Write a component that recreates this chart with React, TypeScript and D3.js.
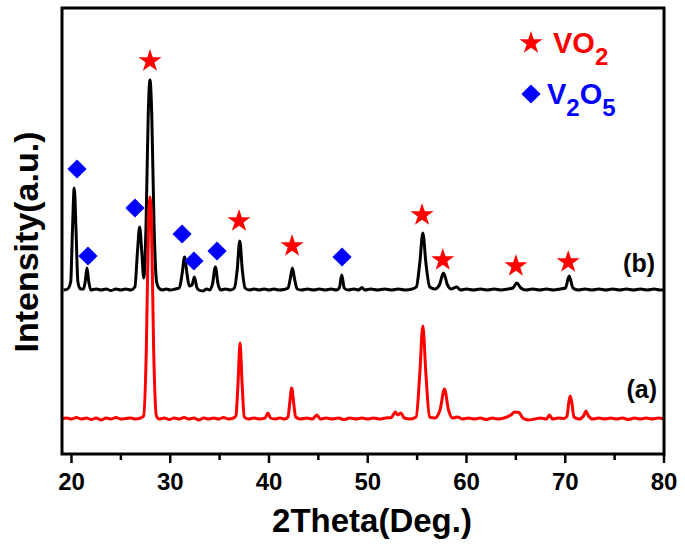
import React from "react";
import * as d3 from "d3";

// Sample (a): [2Theta, intensity above baseline]
const patternA: [number, number][] = [
  [19.0, 0], [19.5, 1], [20, 0], [20.5, 1.5], [21, 0], [21.5, 1], [22, -0.5], [22.5, 1], [23, -1], [23.5, 1],
  [24, 0], [24.5, 1.5], [25, 0], [25.5, 0.5], [26, 1], [26.5, 0], [27, 1], [27.3, 3], [27.58, 70], [27.8, 195],
  [27.95, 222], [28.1, 195], [28.32, 70], [28.6, 3], [28.9, 0], [29.4, 1], [29.9, -0.5], [30.4, 1], [30.9, 0],
  [31.4, 1.5], [31.9, 0], [32.4, 1], [32.9, -1], [33.4, 1], [33.9, 0], [34.4, 1], [34.9, 0], [35.4, 1.5], [35.9, 0],
  [36.4, 1], [36.65, 3], [36.86, 35], [37.07, 76], [37.28, 35], [37.5, 2], [37.9, 0], [38.5, 1], [39.0, 0],
  [39.6, 1], [39.9, 6], [40.15, 1], [40.6, 0], [41.1, 1], [41.6, 0], [41.92, 2], [42.1, 16], [42.3, 31],
  [42.5, 16], [42.7, 2], [43.2, 0], [43.8, 1], [44.4, 0], [44.84, 4], [45.2, 0], [45.8, 1], [46.4, 0],
  [47.0, 1], [47.6, -0.5], [48.2, 1], [48.8, 0], [49.4, 1], [50.0, 0], [50.6, 1], [51.2, 0], [51.8, 1],
  [52.4, 1.5], [52.78, 7], [53.05, 4], [53.35, 6], [53.7, 1], [54.3, 0], [54.9, 2], [55.27, 45], [55.58, 93],
  [55.89, 45], [56.25, 2], [56.8, 1], [57.32, 9], [57.77, 30], [58.18, 9], [58.6, 1], [59.1, 2], [59.6, 0],
  [60.2, 1], [60.8, 0], [61.4, 1], [62.0, -0.5], [62.6, 1], [63.2, 0], [63.8, 1], [64.5, 4], [64.9, 7],
  [65.3, 6.5], [65.7, 1], [66.3, -1], [66.9, 0], [67.5, 1], [68.1, 0], [68.4, 4], [68.7, 0], [69.3, 1],
  [69.9, 0.5], [70.18, 3], [70.35, 16], [70.5, 23], [70.67, 16], [70.88, 2], [71.4, 0], [71.85, 3], [72.1, 8],
  [72.35, 3], [72.8, 0], [73.4, 1], [74.0, 0], [74.6, 1], [75.2, 0], [75.8, 1], [76.4, -0.5], [77.0, 1],
  [77.6, 0], [78.2, 1], [78.8, 0], [79.4, 1], [80, 0]
];

// Sample (b): [2Theta, intensity above baseline]
const patternB: [number, number][] = [
  [19.2, 0], [19.6, 1], [19.92, 8], [20.1, 60], [20.28, 102], [20.46, 60], [20.65, 8], [20.9, 1],
  [21.22, 1], [21.4, 9], [21.57, 22], [21.74, 9], [21.95, 0], [22.5, 1], [23, 0], [23.5, 1], [24, -0.5],
  [24.5, 1], [25, 0], [25.5, 1], [26.0, 0], [26.42, 3], [26.68, 38], [26.9, 63], [27.12, 38], [27.32, 12],
  [27.55, 65], [27.77, 175], [27.95, 210], [28.13, 175], [28.36, 65], [28.62, 8], [28.85, 2], [29.2, 0],
  [29.6, 1], [30, 0], [30.5, 1], [30.92, 2], [31.2, 16], [31.45, 33], [31.7, 16], [31.92, 4], [32.2, 5],
  [32.45, 13], [32.68, 3], [32.9, 0], [33.3, -1], [33.7, 1], [34.0, 0], [34.28, 6], [34.57, 23], [34.84, 6],
  [35.1, 0], [35.6, 1], [36.1, 0], [36.5, 2], [36.78, 20], [37.04, 49], [37.3, 20], [37.58, 2], [38.0, 0],
  [38.5, 1], [39.0, 0], [39.5, 1], [40.0, 0], [40.5, 1], [41.0, 0], [41.5, 0.5], [41.92, 2], [42.15, 11],
  [42.37, 22], [42.59, 11], [42.85, 1], [43.3, 0], [43.9, 1], [44.5, 0], [45.1, 1], [45.7, 0], [46.3, 1],
  [46.8, 0], [47.12, 2], [47.37, 15], [47.62, 2], [48.0, 0], [48.6, 1], [49.1, 0], [49.4, 2.5], [49.7, 0],
  [50.3, 1], [51.0, 0], [51.7, 1], [52.4, 0], [53.1, 1], [53.8, 0], [54.5, 1], [54.92, 3], [55.27, 27],
  [55.58, 57], [55.89, 27], [56.28, 3], [56.8, 1], [57.25, 5], [57.67, 17], [58.08, 5], [58.45, 1],
  [59.0, 3], [59.4, 0], [60.0, 1], [60.7, 0], [61.4, 1], [62.1, 0], [62.8, 1], [63.5, 0], [64.2, 1],
  [64.7, 2], [65.1, 7], [65.5, 2], [66.0, 0], [66.7, 1], [67.4, 0], [68.1, 1], [68.8, 0], [69.5, 1],
  [70.02, 2], [70.4, 14], [70.78, 2], [71.3, 0], [72.0, 1], [72.7, 0], [73.4, 1], [74.1, 0], [74.8, 1],
  [75.5, 0], [76.2, 1], [76.9, 0], [77.6, 1], [78.3, 0], [79.0, 1], [79.6, 0], [80, 0]
];

const offsetA = 35;
const offsetB = 164;

// Peak markers: [2Theta, level]
const vo2Marks: [number, number][] = [
  [27.95, 393], [36.97, 233], [42.34, 208], [55.5, 239], [57.6, 194], [65.0, 188], [70.3, 192]
];
const v2o5Marks: [number, number][] = [
  [20.56, 285], [21.67, 198], [26.43, 246], [31.2, 220], [32.4, 193], [34.74, 203], [47.4, 197]
];

const xTicks = [20, 30, 40, 50, 60, 70, 80];
const xMinor = [25, 35, 45, 55, 65, 75];

const W = 685;
const H = 545;
const L = 62, R = 664, T = 8, B = 454;
const FONT = "'Liberation Sans', Arial, sans-serif";

export default function App() {
  const x = d3.scaleLinear().domain([19.04, 80]).range([L, R]);
  const y = d3.scaleLinear().domain([0, B - T]).range([B, T]);

  const line = (off: number) =>
    d3
      .line<[number, number]>()
      .x((d) => x(d[0]))
      .y((d) => y(d[1] + off))
      .curve(d3.curveMonotoneX);

  const star = d3.symbol().type(d3.symbolStar).size(165)()!;
  const diamond = d3.symbol().type(d3.symbolSquare).size(185)()!;

  return (
    <svg width={W} height={H} style={{ position: "absolute", left: 0, top: 0, background: "#fff" }}>
      <rect x={0} y={0} width={W} height={H} fill="#fff" />
      <path d={line(offsetB)(patternB)!} fill="none" stroke="#000" strokeWidth={3} strokeLinejoin="round" />
      <path d={line(offsetA)(patternA)!} fill="none" stroke="#ff0000" strokeWidth={3} strokeLinejoin="round" />

      {vo2Marks.map((d, i) => (
        <path key={"s" + i} d={star} transform={`translate(${x(d[0])},${y(d[1])})`} fill="#ff0000" />
      ))}
      {v2o5Marks.map((d, i) => (
        <path key={"d" + i} d={diamond} transform={`translate(${x(d[0])},${y(d[1])}) rotate(45)`} fill="#0000ff" />
      ))}

      {/* frame */}
      <rect x={L} y={T} width={R - L} height={B - T} fill="none" stroke="#000" strokeWidth={3} />

      {/* ticks */}
      {xTicks.map((t) => (
        <g key={"t" + t}>
          <line x1={x(t)} x2={x(t)} y1={B} y2={B + 9} stroke="#000" strokeWidth={2.5} />
          <text x={x(t)} y={490} textAnchor="middle" fontFamily={FONT} fontWeight="bold" fontSize={24} fill="#000">
            {t}
          </text>
        </g>
      ))}
      {xMinor.map((t) => (
        <line key={"m" + t} x1={x(t)} x2={x(t)} y1={B} y2={B + 6} stroke="#000" strokeWidth={2.5} />
      ))}

      <text x={372} y={532} textAnchor="middle" fontFamily={FONT} fontWeight="bold" fontSize={33} fill="#000">
        2Theta(Deg.)
      </text>
      <text
        transform={`translate(38,242) rotate(-90)`}
        textAnchor="middle"
        fontFamily={FONT}
        fontWeight="bold"
        fontSize={34}
        fill="#000"
      >
        Intensity(a.u.)
      </text>

      <text x={655} y={272} textAnchor="end" fontFamily={FONT} fontWeight="bold" fontSize={25} fill="#000">
        (b)
      </text>
      <text x={657} y={398} textAnchor="end" fontFamily={FONT} fontWeight="bold" fontSize={25} fill="#000">
        (a)
      </text>

      {/* legend */}
      <path d={star} transform="translate(531,43)" fill="#ff0000" />
      <text x={553} y={53} fontFamily={FONT} fontWeight="bold" fontSize={29} fill="#ff0000">
        VO
        <tspan dy={12} fontSize={24}>2</tspan>
      </text>
      <path d={diamond} transform="translate(531,94) rotate(45)" fill="#0000ff" />
      <text x={547} y={104} fontFamily={FONT} fontWeight="bold" fontSize={29} fill="#0000ff">
        V<tspan dy={12} fontSize={24}>2</tspan>
        <tspan dy={-12}>O</tspan>
        <tspan dy={12} fontSize={24}>5</tspan>
      </text>
    </svg>
  );
}
